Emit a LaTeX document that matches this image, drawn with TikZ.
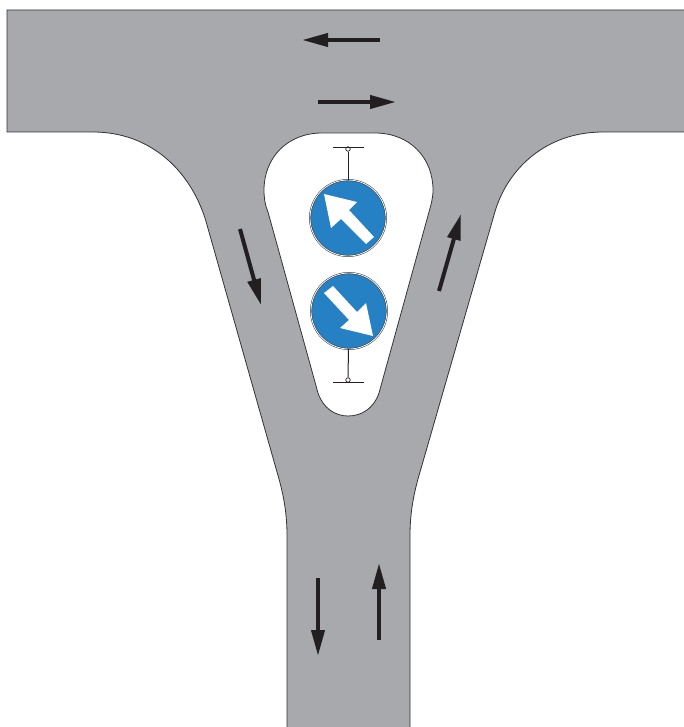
\documentclass[tikz,border=0pt]{standalone}
\usepackage{xcolor}
\usepackage{tikz}
\usetikzlibrary{arrows.meta}
\definecolor{asphalt}{RGB}{167,169,172}
\definecolor{edge}{RGB}{50,50,52}
\definecolor{signblue}{RGB}{37,129,196}
\definecolor{ink}{RGB}{35,31,32}
\tikzset{
  road/.style={draw=edge, line width=0.8pt},
  island/.style={draw=edge, line width=0.8pt, fill=white},
  lane/.style={draw=ink, line width=4pt, -{Triangle[length=26pt, width=13pt]}},
  sign/.style={circle, draw=edge, line width=0.5pt, double=white, double distance=0.8pt,
    fill=signblue, minimum size=76pt, inner sep=0pt},
  signarrow/.style={fill=white},
  post/.style={draw=ink, line width=1pt},
  pin/.style={circle, draw=ink, line width=0.7pt, fill=white, minimum size=4.5pt, inner sep=0pt},
  crossbar/.style={draw=ink, line width=1pt}
}
\begin{document}
\begin{tikzpicture}[x=1pt, y=-1pt]
  \useasboundingbox (0,0) rectangle (684,727);

  % road surface
  \fill[asphalt] (7,10) -- (684,10) -- (684,132) -- (603,132)
    .. controls (545,132) and (506,170) .. (494,215)
    -- (420,472) .. controls (414,492) and (410,512) .. (410,535)
    -- (410,727) -- (287,727) -- (287,535)
    .. controls (287,512) and (283,492) .. (277,472)
    -- (205.6,220) .. controls (190,170) and (150,132) .. (93,132)
    -- (7,132) -- cycle;
  \draw[road] (684,10) -- (7,10) -- (7,132) -- (93,132)
    .. controls (150,132) and (190,170) .. (205.6,220)
    -- (277,472) .. controls (283,492) and (287,512) .. (287,535) -- (287,727);
  \draw[road] (684,132) -- (603,132)
    .. controls (545,132) and (506,170) .. (494,215)
    -- (420,472) .. controls (414,492) and (410,512) .. (410,535) -- (410,727);

  % island
  \draw[island] (322,133) -- (375,133)
    .. controls (410,133) and (433,158) .. (433,190)
    .. controls (433,198) and (431,205) .. (429,212)
    -- (379,393) .. controls (374,408) and (362,416) .. (348,416)
    .. controls (335,416) and (323,408) .. (318,393)
    -- (268,212) .. controls (265,205) and (264,198) .. (264,190)
    .. controls (264,158) and (287,133) .. (322,133) -- cycle;

  % signs
  \node[sign] (upper) at (348,218) {};
  \node[sign] (lower) at (349,311) {};
  \fill[signarrow] (324,194) -- (357,202) -- (349,210) -- (374,237) -- (366,244)
    -- (341,219) -- (331,228) -- cycle;
  \fill[signarrow] (373,336) -- (340,328) -- (349,320) -- (324,293) -- (333,286)
    -- (357,312) -- (366,303) -- cycle;

  % posts
  \node[pin] (toppin) at (348,149) {};
  \node[pin] (botpin) at (348,380) {};
  \draw[post] (upper) -- (toppin);
  \draw[post] (lower) -- (botpin);
  \draw[crossbar] (333,148) -- (364,148);
  \draw[crossbar] (333,382) -- (364,382);

  % lanes
  \draw[lane] (380,40) -- (302,40);
  \draw[lane] (318,102) -- (396,102);
  \draw[lane] (240,229) -- (261,305);
  \draw[lane] (439,291) -- (461,214);
  \draw[lane] (318,578) -- (318,656);
  \draw[lane] (379,640) -- (379,563);
\end{tikzpicture}
\end{document}
